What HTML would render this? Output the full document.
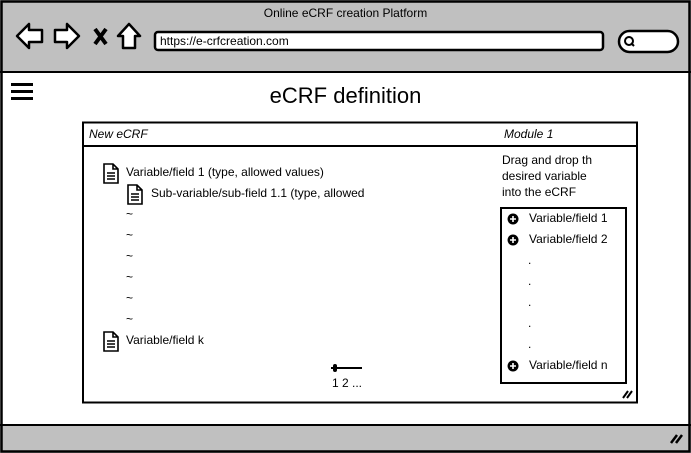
<!DOCTYPE html>
<html><head><meta charset="utf-8"><style>
html,body{margin:0;padding:0;width:691px;height:453px;overflow:hidden;background:#fff}
body{position:relative;font-family:"Liberation Sans",sans-serif;color:#000}
.a{position:absolute;white-space:nowrap}
.t{font-size:12px}
</style></head><body>
<svg class="a" style="left:0;top:0" width="691" height="453" viewBox="0 0 691 453">
<rect x="0" y="0" width="691" height="72" fill="#c0c0c0"/>
<rect x="0" y="425" width="691" height="28" fill="#c0c0c0"/>
<rect x="1.5" y="1.5" width="688" height="450" fill="none" stroke="#000" stroke-width="2.5"/>
<line x1="0" y1="72" x2="691" y2="72" stroke="#000" stroke-width="2"/>
<line x1="0" y1="425" x2="691" y2="425" stroke="#000" stroke-width="2"/>
<!-- nav icons -->
<path d="M17 36 L29 24 L29 30 L42 30 L42 42 L29 42 L29 48 Z" fill="#fff" stroke="#000" stroke-width="2.5" stroke-linejoin="round"/>
<path d="M79 36 L67 24 L67 30 L55 30 L55 42 L67 42 L67 48 Z" fill="#fff" stroke="#000" stroke-width="2.5" stroke-linejoin="round"/>
<path d="M95 29 L106 44 M106 29 L95 44" stroke="#000" stroke-width="4"/>
<path d="M129 24 L140 36 L135 36 L135 48 L123 48 L123 36 L118 36 Z" fill="#fff" stroke="#000" stroke-width="2.5" stroke-linejoin="round"/>
<rect x="155" y="32" width="448" height="18" rx="3" fill="#fff" stroke="#000" stroke-width="2.5"/>
<rect x="619" y="31" width="59" height="21" rx="10.5" fill="#fff" stroke="#000" stroke-width="2.5"/>
<circle cx="629" cy="41" r="4" fill="none" stroke="#000" stroke-width="2"/>
<line x1="631" y1="43" x2="634" y2="46" stroke="#000" stroke-width="2"/>
<!-- hamburger -->
<rect x="11" y="83" width="22" height="3" fill="#000"/>
<rect x="11" y="90" width="22" height="3" fill="#000"/>
<rect x="11" y="97" width="22" height="3" fill="#000"/>
<!-- main panel -->
<rect x="83" y="122.5" width="554" height="280" fill="#fff" stroke="#000" stroke-width="2"/>
<line x1="83" y1="146" x2="637" y2="146" stroke="#000" stroke-width="2"/>
<rect x="501" y="208" width="125" height="175" fill="#fff" stroke="#000" stroke-width="2"/>
<path d="M623 398 L628 391 M627 398 L632 391" stroke="#000" stroke-width="2"/>
<path d="M671 443 L677 435 M676 443 L682 435" stroke="#000" stroke-width="2.5"/>
<!-- doc icons -->
<g fill="none" stroke="#000" stroke-width="1.6">
<path d="M104 164 h9 l5 5 v14 h-14 Z M113 164 v5 h5 M107 173 h8 M107 176 h8 M107 179 h8"/>
<path d="M128 185 h9 l5 5 v14 h-14 Z M137 185 v5 h5 M131 194 h8 M131 197 h8 M131 200 h8"/>
<path d="M104 332 h9 l5 5 v14 h-14 Z M113 332 v5 h5 M107 341 h8 M107 344 h8 M107 347 h8"/>
</g>
<!-- plus circles -->
<g>
<circle cx="513" cy="219" r="5.5" fill="#000"/><path d="M510 219h6M513 216v6" stroke="#fff" stroke-width="1.6"/>
<circle cx="513" cy="240" r="5.5" fill="#000"/><path d="M510 240h6M513 237v6" stroke="#fff" stroke-width="1.6"/>
<circle cx="513" cy="366" r="5.5" fill="#000"/><path d="M510 366h6M513 363v6" stroke="#fff" stroke-width="1.6"/>
</g>
<!-- slider -->
<line x1="331" y1="368" x2="362" y2="368" stroke="#000" stroke-width="2"/>
<rect x="333" y="364" width="4" height="8" rx="2" fill="#000"/>
</svg>
<div class="a t" style="left:0;width:691px;text-align:center;top:6px">Online eCRF creation Platform</div>
<div class="a t" style="left:160px;top:34px">https://e-crfcreation.com</div>
<div class="a" style="left:0;width:691px;text-align:center;top:83px;font-size:22px">eCRF definition</div>
<div class="a t" style="left:89px;top:127px;font-style:italic">New eCRF</div>
<div class="a t" style="left:504px;top:127px;font-style:italic">Module 1</div>
<div class="a t" style="left:126px;top:165px">Variable/field 1 (type, allowed values)</div>
<div class="a t" style="left:151px;top:186px">Sub-variable/sub-field 1.1 (type, allowed</div>
<div class="a t" style="left:126px;top:207px">~</div>
<div class="a t" style="left:126px;top:228px">~</div>
<div class="a t" style="left:126px;top:249px">~</div>
<div class="a t" style="left:126px;top:270px">~</div>
<div class="a t" style="left:126px;top:291px">~</div>
<div class="a t" style="left:126px;top:312px">~</div>
<div class="a t" style="left:126px;top:333px">Variable/field k</div>
<div class="a t" style="left:332px;top:376px">1 2 ...</div>
<div class="a t" style="left:502px;top:152px;line-height:16px">Drag and drop th<br>desired variable<br>into the eCRF</div>
<div class="a t" style="left:529px;top:211px">Variable/field 1</div>
<div class="a t" style="left:529px;top:232px">Variable/field 2</div>
<div class="a t" style="left:528px;top:253px">.</div>
<div class="a t" style="left:528px;top:274px">.</div>
<div class="a t" style="left:528px;top:295px">.</div>
<div class="a t" style="left:528px;top:316px">.</div>
<div class="a t" style="left:528px;top:337px">.</div>
<div class="a t" style="left:529px;top:358px">Variable/field n</div>
</body></html>
